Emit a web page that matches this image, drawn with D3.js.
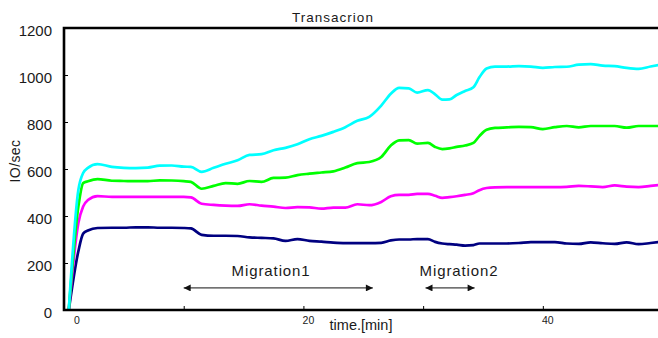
<!DOCTYPE html>
<html>
<head>
<meta charset="utf-8">
<script src="https://cdn.jsdelivr.net/npm/d3@7/dist/d3.min.js"></script>
<style>
  html, body { margin: 0; padding: 0; background: #fff; }
  svg { display: block; }
  text { font-family: "Liberation Sans", Arial, sans-serif; fill: #1a1a1a; }
</style>
</head>
<body>
<svg id="chart" width="658" height="338"></svg>
<script>
// Sample times in minutes
const times = [0.4, 1.2, 1.6, 2.0, 2.8, 4, 5, 6, 7, 8, 9, 10, 10.6, 11.5, 12.5, 13.5, 14.5,
  15.5, 16.5, 17.5, 18.5, 19.5, 20.5, 21.5, 22.5, 23.5, 24.5, 25.5, 26.5, 27.3, 28, 28.8,
  29.5, 30.4, 31, 31.6, 32.2, 32.8, 33.5, 34.2, 34.7, 35.3, 36, 37, 38, 39, 40, 41, 42,
  43, 44, 45, 46, 47, 48, 49, 49.7];

// IO/sec per run
const cyanValues = [0, 511, 583, 605, 621, 609, 605, 604, 606, 614, 615, 610, 609, 588, 605,
  622, 637, 660, 663, 680, 690, 705, 727, 741, 758, 778, 805, 822, 870, 920, 945, 943, 925,
  936, 918, 895, 896, 915, 932, 948, 990, 1028, 1036, 1036, 1038, 1036, 1030, 1034, 1035,
  1044, 1046, 1040, 1038, 1030, 1026, 1036, 1043];
const greenValues = [0, 440, 540, 548, 557, 550, 549, 548, 548, 552, 551, 548, 545, 516, 528,
  540, 537, 549, 545, 562, 563, 574, 580, 585, 590, 606, 625, 630, 651, 700, 722, 723, 708,
  711, 694, 685, 688, 694, 700, 711, 740, 767, 775, 777, 779, 778, 770, 778, 783, 777, 783,
  783, 783, 776, 783, 783, 783];
const magentaValues = [0, 370, 440, 468, 485, 481, 481, 481, 481, 481, 481, 481, 479, 452, 447,
  444, 443, 450, 444, 440, 434, 438, 437, 431, 436, 436, 450, 446, 460, 484, 490, 490, 494,
  494, 486, 477, 480, 484, 490, 497, 510, 519, 522, 523, 523, 523, 523, 523, 524, 528, 526,
  523, 530, 525, 523, 528, 532];
const navyValues = [0, 250, 325, 338, 349, 350, 350, 352, 352, 350, 350, 349, 347, 320, 316,
  316, 315, 309, 307, 305, 294, 302, 294, 291, 287, 285, 285, 285, 286, 296, 300, 300, 302,
  302, 290, 283, 280, 278, 274, 276, 283, 283, 283, 283, 285, 289, 289, 289, 283, 281, 288,
  284, 281, 288, 280, 285, 289];

const seriesNames = ["navy", "magenta", "green", "cyan"];
const seriesColors = ["#000080", "#ff00ff", "#00ff00", "#00ffff"];
const seriesValues = [navyValues, magentaValues, greenValues, cyanValues];

const yTicks = [0, 200, 400, 600, 800, 1000, 1200];
const xTickMarks = [10, 20, 30, 40];
const xTickLabels = [0, 20, 40];

// Migration windows (minutes) and the IO/sec level where their arrows sit
const migrationNames = ["Migration1", "Migration2"];
const migrationStart = [10, 30.2];
const migrationEnd = [25.8, 34.3];
const migrationLabelAt = [17.3, 33.0];
const migrationArrowLevel = 94;
const migrationLabelLevel = 145;

const svg = d3.select("#chart");
const plotLeft = 64, plotRight = 658, plotTop = 28, plotBottom = 310;

const x = d3.scaleLinear().domain([0, 49.62]).range([plotLeft, plotRight]);
const y = d3.scaleLinear().domain([0, 1200]).range([plotBottom, plotTop]);

const defs = svg.append("defs");
// clip the curves to the plotting area
defs.append("clipPath").attr("id", "plot")
  .append("rect").attr("x", plotLeft).attr("y", plotTop)
  .attr("width", plotRight - plotLeft).attr("height", plotBottom - plotTop);

// arrowheads
defs.append("marker").attr("id", "head").attr("viewBox", "0 0 10 10")
  .attr("refX", 10).attr("refY", 5).attr("markerWidth", 9).attr("markerHeight", 7)
  .attr("markerUnits", "userSpaceOnUse").attr("orient", "auto-start-reverse")
  .append("path").attr("d", "M0,0L10,5L0,10Z").attr("fill", "#111");

// title
svg.append("text").attr("x", 333).attr("y", 22).attr("text-anchor", "middle")
  .style("font-size", "13.5px").style("letter-spacing", "1px").text("Transacrion");

// series lines
const line = d3.line().x((d, i) => x(times[i])).y(d => y(d)).curve(d3.curveMonotoneX);
const lines = svg.append("g").attr("clip-path", "url(#plot)");
seriesValues.forEach((vals, k) => {
  lines.append("path").datum(vals)
    .attr("class", "series " + seriesNames[k])
    .attr("fill", "none").attr("stroke", seriesColors[k])
    .attr("stroke-width", 2.7).attr("stroke-linejoin", "round").attr("stroke-linecap", "round")
    .attr("d", line);
});

// y axis ticks and labels
const yAxis = svg.append("g").attr("transform", `translate(${plotLeft},0)`)
  .call(d3.axisRight(y).tickValues(yTicks.filter(v => v > 0 && v < 1200)).tickSize(4).tickFormat(""));
yAxis.select(".domain").remove();
yAxis.selectAll(".tick line").attr("stroke", "#000").attr("stroke-width", 1);
svg.append("g").selectAll("text").data(yTicks).join("text")
  .attr("x", 52).attr("y", d => y(d) + 7.5).attr("text-anchor", "end")
  .style("font-size", "15px").text(d => d);

// x axis ticks and labels
const xAxis = svg.append("g").attr("transform", `translate(0,${plotBottom})`)
  .call(d3.axisTop(x).tickValues(xTickMarks).tickSize(4).tickFormat(""));
xAxis.select(".domain").remove();
xAxis.selectAll(".tick line").attr("stroke", "#000").attr("stroke-width", 1);
svg.append("g").selectAll("text").data(xTickLabels).join("text")
  .attr("x", d => Math.max(x(d) + 5, plotLeft + 13)).attr("y", 324).attr("text-anchor", "middle")
  .style("font-size", "10.5px").text(d => d);

// frame: top, left, bottom
svg.append("path")
  .attr("d", `M${plotRight},${plotTop}H${plotLeft}V${plotBottom}H${plotRight}`)
  .attr("fill", "none").attr("stroke", "#000").attr("stroke-width", 2.6);

// axis titles
svg.append("text").attr("x", 361).attr("y", 330).attr("text-anchor", "middle")
  .style("font-size", "14.5px").text("time.[min]");
svg.append("text").attr("transform", "translate(20,161) rotate(-90)").attr("text-anchor", "middle")
  .style("font-size", "14px").style("letter-spacing", "0.4px").text("IO/sec");

// migration annotations
const ann = svg.append("g");
migrationNames.forEach((name, i) => {
  ann.append("line")
    .attr("x1", x(migrationStart[i])).attr("x2", x(migrationEnd[i]))
    .attr("y1", y(migrationArrowLevel)).attr("y2", y(migrationArrowLevel))
    .attr("stroke", "#111").attr("stroke-width", 1)
    .attr("marker-start", "url(#head)")
    .attr("marker-end", "url(#head)");
  ann.append("text").attr("x", x(migrationLabelAt[i])).attr("y", y(migrationLabelLevel))
    .attr("text-anchor", "middle").style("font-size", "15px").style("letter-spacing", "0.9px")
    .text(name);
});
</script>
</body>
</html>
